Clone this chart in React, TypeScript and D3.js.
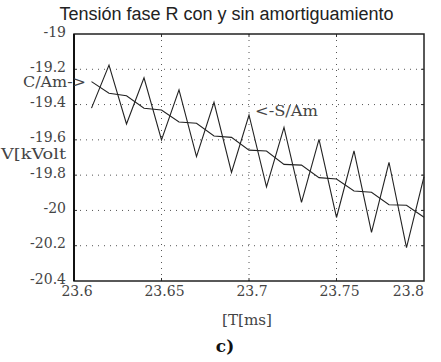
import React from 'react';
import * as d3 from 'd3';

// time [ms]
const times = [
  23.61, 23.62, 23.63, 23.64, 23.65, 23.66, 23.67, 23.68, 23.69, 23.7,
  23.71, 23.72, 23.73, 23.74, 23.75, 23.76, 23.77, 23.78, 23.79, 23.8,
];
// sin amortiguamiento (S/Am)
const sinAm = [
  -19.42, -19.176, -19.51, -19.248, -19.6, -19.317, -19.695, -19.387, -19.784, -19.459,
  -19.866, -19.529, -19.954, -19.597, -20.04, -19.663, -20.124, -19.727, -20.211, -19.809,
];
// con amortiguamiento (C/Am)
const conAm = [
  -19.27, -19.336, -19.35, -19.421, -19.431, -19.499, -19.506, -19.578, -19.586, -19.658,
  -19.663, -19.739, -19.743, -19.814, -19.822, -19.89, -19.897, -19.968, -19.971, -20.039,
];
const xTicks = [23.6, 23.65, 23.7, 23.75, 23.8];
const yTicks = [-19, -19.2, -19.4, -19.6, -19.8, -20, -20.2, -20.4];

const W = 441;
const H = 362;
const left = 74;
const right = 424;
const top = 34;
const bottom = 281;

const serif = "'DejaVu Serif', serif";
const fs = 14;

export default function App() {
  const x = d3.scaleLinear().domain([23.6, 23.8]).range([left, right]);
  const y = d3.scaleLinear().domain([-20.4, -19]).range([bottom, top]);

  const line = d3
    .line<number>()
    .x((_, i) => x(times[i]))
    .y((d) => y(d));

  const fmt = (v: number) => String(v);

  return (
    <svg
      width={W}
      height={H}
      style={{ position: 'absolute', left: 0, top: 0, background: '#fff' }}
    >
      <text
        x={226.5}
        y={20}
        textAnchor="middle"
        fontFamily="'Liberation Sans', Arial, sans-serif"
        fontSize={18}
        fill="#222"
      >
        Tensión fase R con y sin amortiguamiento
      </text>

      {/* grid */}
      {xTicks.slice(1, -1).map((t) => (
        <g key={'gx' + t}>
          <line x1={x(t)} x2={x(t)} y1={top} y2={bottom} stroke="#555" strokeWidth={1} strokeDasharray="1,5" />
          <line x1={x(t)} x2={x(t)} y1={bottom} y2={bottom - 3} stroke="#333" />
          <line x1={x(t)} x2={x(t)} y1={top} y2={top + 3} stroke="#333" />
        </g>
      ))}
      {yTicks.slice(1, -1).map((t) => (
        <g key={'gy' + t}>
          <line x1={left} x2={right} y1={y(t)} y2={y(t)} stroke="#555" strokeWidth={1} strokeDasharray="1,5" />
          <line x1={left} x2={left + 3} y1={y(t)} y2={y(t)} stroke="#333" />
          <line x1={right} x2={right - 3} y1={y(t)} y2={y(t)} stroke="#333" />
        </g>
      ))}

      {/* series */}
      <path d={line(sinAm) || ''} fill="none" stroke="#222" strokeWidth={1.1} />
      <path d={line(conAm) || ''} fill="none" stroke="#222" strokeWidth={1.1} />

      {/* frame */}
      <rect x={left} y={top} width={right - left} height={bottom - top} fill="none" stroke="#222" strokeWidth={1.5} />
      <line x1={left} x2={left} y1={top} y2={bottom} stroke="#111" strokeWidth={2} />

      {/* y tick labels */}
      {yTicks.map((t) => (
        <text key={'ly' + t} x={66} y={y(t) + 2.5} textAnchor="end" fontFamily={serif} fontSize={fs} fill="#444">
          {fmt(t)}
        </text>
      ))}
      {/* x tick labels */}
      {xTicks.map((t, i) => (
        <text
          key={'lx' + t}
          x={i === xTicks.length - 1 ? x(t) + 0 : x(t) + 3}
          y={296}
          textAnchor={i === xTicks.length - 1 ? 'end' : 'middle'}
          fontFamily={serif}
          fontSize={fs}
          fill="#444"
        >
          {fmt(t)}
        </text>
      ))}

      <text x={1} y={159} textLength={65} lengthAdjust="spacingAndGlyphs" fontFamily={serif} fontSize={fs} fill="#444">
        V[kVolt
      </text>
      <text x={23} y={86.5} textLength={63} lengthAdjust="spacingAndGlyphs" fontFamily={serif} fontSize={fs} fill="#444">
        C/Am-&gt;
      </text>
      <text x={255} y={116} textLength={63} lengthAdjust="spacingAndGlyphs" fontFamily={serif} fontSize={fs} fill="#444">
        &lt;-S/Am
      </text>
      <text x={222} y={325} textLength={50} lengthAdjust="spacingAndGlyphs" fontFamily={serif} fontSize={fs} fill="#444">
        [T[ms]
      </text>
      <text x={225} y={352} textAnchor="middle" fontFamily={serif} fontSize={17} fontWeight="bold" fill="#111">
        c)
      </text>
    </svg>
  );
}
